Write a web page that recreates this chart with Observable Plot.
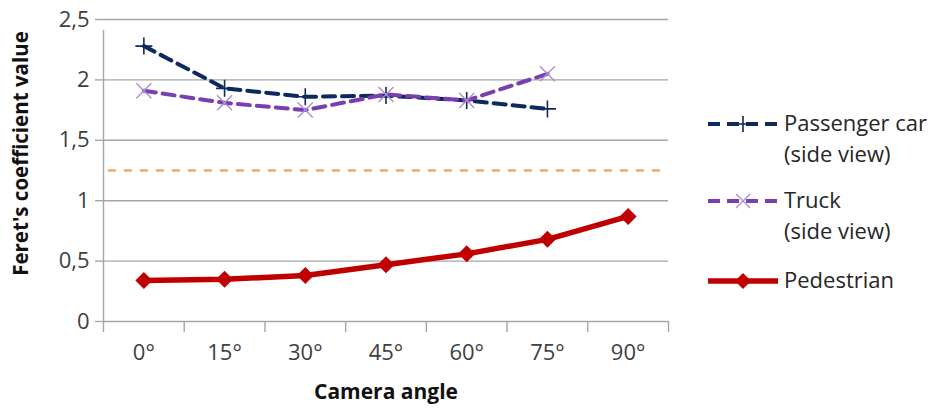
<!DOCTYPE html>
<html>
<head>
<meta charset="utf-8">
<script src="https://cdn.jsdelivr.net/npm/d3@7"></script>
<script src="https://cdn.jsdelivr.net/npm/@observablehq/plot@0.6"></script>
<style>
  html, body { margin: 0; padding: 0; background: #fff; }
  #wrap { position: relative; width: 936px; height: 412px; font-family: "Open Sans", Lato, sans-serif; }
  #chart svg [aria-label$="tick label"] { font-size: 22px; }
  #legend { position: absolute; left: 706px; top: 0; width: 230px; }
  .item { position: absolute; left: 0; display: flex; align-items: flex-start; }
  .item svg { flex: none; }
  .item .lab { font-size: 22px; line-height: 31px; color: #262626; margin-left: 6px; white-space: nowrap; }
</style>
</head>
<body>
<div id="wrap"><div id="chart"></div><div id="legend"></div></div>
<script>
// Camera angles (degrees) and measured Feret's coefficient per object type
const angles = [0, 15, 30, 45, 60, 75, 90];
const passengerCar = [2.28, 1.93, 1.86, 1.87, 1.83, 1.76];
const truck = [1.91, 1.81, 1.75, 1.88, 1.83, 2.05];
const pedestrian = [0.34, 0.35, 0.38, 0.47, 0.56, 0.68, 0.87];
const threshold = 1.25;
const yTicks = [0, 0.5, 1, 1.5, 2, 2.5];
const seriesNames = ["Passenger car\n(side view)", "Truck\n(side view)", "Pedestrian"];

const colors = { car: "#0e2a5c", truck: "#7a3eb1", truckMark: "#ab8fd3", ped: "#c00000", thr: "#f79646", grid: "#a6a6a6" };
const font = "'Open Sans', Lato, sans-serif";

// Category boundaries sit halfway between neighbouring angles
const step = 15;
const bounds = d3.range(angles.length + 1).map(i => angles[0] - step / 2 + i * step);

const rows = (vals) => vals.map((v, i) => ({ angle: angles[i], value: v }));
const carRows = rows(passengerCar);
const truckRows = rows(truck);
const pedRows = rows(pedestrian);

// Marker shapes
const radius = (size) => Math.sqrt(size / Math.PI);
const plusSym = { draw(c, s) { const r = radius(s); c.moveTo(-r, 0); c.lineTo(r, 0); c.moveTo(0, -r); c.lineTo(0, r); } };
const timesSym = { draw(c, s) { const r = radius(s); c.moveTo(-r, -r); c.lineTo(r, r); c.moveTo(-r, r); c.lineTo(r, -r); } };
const diamondSym = { draw(c, s) { const r = radius(s); c.moveTo(0, -r); c.lineTo(r, 0); c.lineTo(0, r); c.lineTo(-r, 0); c.closePath(); } };

const fmt = d => d3.format("~g")(d).replace(".", ",");

const chart = Plot.plot({
  width: 936,
  height: 412,
  marginLeft: 103,
  marginRight: 268,
  marginTop: 19,
  marginBottom: 91,
  style: { fontFamily: font, fontSize: "22px", color: "#404040", background: "#fff" },
  x: { domain: [bounds[0], bounds[bounds.length - 1]] },
  y: { domain: [0, 2.5] },
  marks: [
    Plot.ruleY(yTicks, { stroke: colors.grid, strokeWidth: 1.4 }),
    Plot.ruleX([bounds[0]], { y1: 0, y2: 2.5, stroke: colors.grid, strokeWidth: 1.4, insetBottom: -11 }),
    Plot.axisY({ ticks: yTicks, tickFormat: fmt, tickSize: 8, tickPadding: 6, stroke: colors.grid, strokeWidth: 1.4, strokeOpacity: 1, label: null, fill: "#404040", fontSize: 22 }),
    Plot.axisX({ ticks: bounds, tickFormat: () => "", tickSize: 11, stroke: colors.grid, strokeWidth: 1.4, strokeOpacity: 1, label: null }),
    Plot.axisX({ ticks: angles, tickFormat: d => d + "°", tickSize: 0, tickPadding: 23, label: null, fill: "#404040", fontSize: 22 }),
    Plot.ruleY([threshold], { x1: bounds[0] + 0.9, x2: bounds[bounds.length - 1] - 1.1, stroke: colors.thr, strokeWidth: 2, strokeDasharray: "8,8" }),
    Plot.line(carRows, { x: "angle", y: "value", stroke: colors.car, strokeWidth: 4, strokeDasharray: "12,7" }),
    Plot.dot(carRows, { x: "angle", y: "value", symbol: plusSym, r: 8.5, fill: "none", stroke: colors.car, strokeWidth: 1.6 }),
    Plot.line(truckRows, { x: "angle", y: "value", stroke: colors.truck, strokeWidth: 4, strokeDasharray: "12,7" }),
    Plot.dot(truckRows, { x: "angle", y: "value", symbol: timesSym, r: 7.5, fill: "none", stroke: colors.truckMark, strokeWidth: 1.4 }),
    Plot.line(pedRows, { x: "angle", y: "value", stroke: colors.ped, strokeWidth: 5.5 }),
    Plot.dot(pedRows, { x: "angle", y: "value", symbol: diamondSym, r: 8.5, fill: colors.ped, stroke: "none" }),
    Plot.text(["Feret's coefficient value"], { frameAnchor: "left", textAnchor: "middle", dx: -82, dy: -17, rotate: -90, fontWeight: "bold", fontSize: 20.5, fill: "#111" }),
    Plot.text(["Camera angle"], { frameAnchor: "bottom", dy: 77, fontWeight: "bold", fontSize: 21, fill: "#111" })
  ]
});
document.getElementById("chart").append(chart);

// Legend beside the plot area
const legendSpec = [
  { name: seriesNames[0], top: 107, color: colors.car, dash: "12,7", width: 4, sym: "plus", symColor: colors.car },
  { name: seriesNames[1], top: 184, color: colors.truck, dash: "12,7", width: 4, sym: "times", symColor: colors.truckMark },
  { name: seriesNames[2], top: 264, color: colors.ped, dash: null, width: 5.5, sym: "diamond", symColor: colors.ped }
];
const legend = d3.select("#legend");
for (const s of legendSpec) {
  const item = legend.append("div").attr("class", "item").style("top", s.top + "px");
  const svg = item.append("svg").attr("width", 72).attr("height", 31);
  svg.append("line").attr("x1", 2).attr("x2", 72).attr("y1", 17).attr("y2", 17)
    .attr("stroke", s.color).attr("stroke-width", s.width).attr("stroke-dasharray", s.dash);
  const g = svg.append("g").attr("transform", "translate(37,17)");
  if (s.sym === "plus") g.append("path").attr("d", "M-8,0H8M0,-8V8").attr("stroke", s.symColor).attr("stroke-width", 1.6).attr("fill", "none");
  if (s.sym === "times") g.append("path").attr("d", "M-7,-7L7,7M-7,7L7,-7").attr("stroke", s.symColor).attr("stroke-width", 1.4).attr("fill", "none");
  if (s.sym === "diamond") g.append("path").attr("d", "M0,-8L8,0L0,8L-8,0Z").attr("fill", s.symColor);
  const lab = item.append("div").attr("class", "lab");
  s.name.split("\n").forEach(t => lab.append("div").text(t));
}
</script>
</body>
</html>
